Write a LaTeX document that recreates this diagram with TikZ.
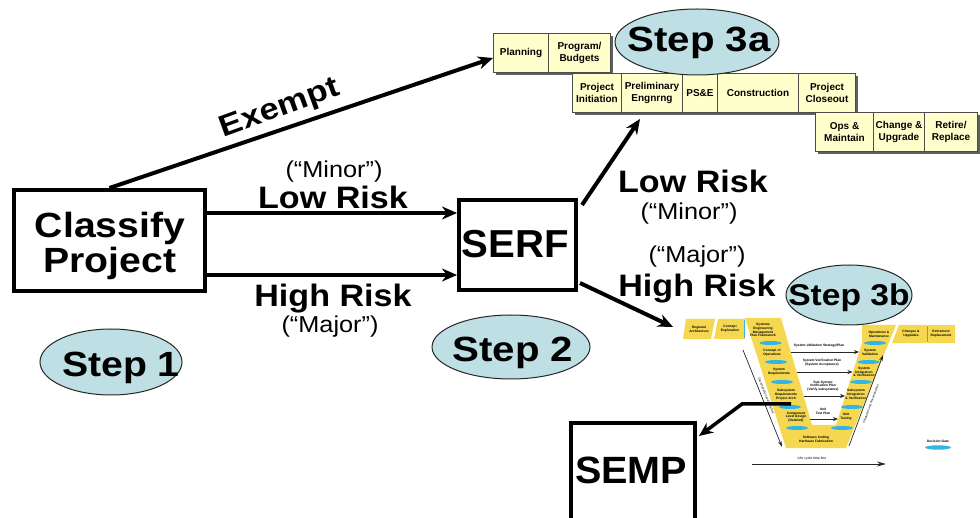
\documentclass[tikz,border=0pt]{standalone}
\usepackage{fontspec}
\setmainfont{Liberation Sans}
\usetikzlibrary{arrows.meta,shapes.geometric,shadows}

\definecolor{stepfill}{RGB}{190,224,228}
\definecolor{stairfill}{RGB}{255,255,204}
\definecolor{vyellow}{RGB}{245,216,80}
\definecolor{gateblue}{RGB}{50,180,230}

\newcommand{\hs}[2]{\scalebox{#1}[1]{#2}}
\newcommand\fcls{\fontsize{35}{35}\selectfont\bfseries}
\newcommand\frisk{\fontsize{31}{31}\selectfont\bfseries}
\newcommand\fminor{\fontsize{23}{23}\selectfont}
\newcommand\fstep{\fontsize{35}{35}\selectfont\bfseries}
\newcommand\fstair{\fontsize{10}{11.5}\selectfont\bfseries}
\newcommand\fvv{\fontsize{3.3}{3.8}\selectfont\bfseries}

\begin{document}
\begin{tikzpicture}[x=1pt,y=-1pt,
  bigbox/.style={draw, line width=4pt, inner sep=0pt},
  bigarrow/.style={line width=4pt, -{Stealth[length=15pt,width=13pt]}},
  stairbox/.style={draw=gray!60!black, fill=stairfill, line width=1pt, anchor=north west,
    inner sep=0pt, align=center, font=\fstair,
    drop shadow={shadow xshift=2.5pt, shadow yshift=-2.5pt, fill=gray!75!black, opacity=1}},
  stepell/.style={ellipse, draw=gray!30!black, fill=stepfill, line width=1pt, inner sep=0pt},
  vtxt/.style={font=\fvv, align=center, inner sep=0pt},
  vthin/.style={line width=0.7pt, gray!30!black},
  vgate/.style={fill=gateblue},
  txtb/.style={anchor=base, inner sep=0pt}
]
\useasboundingbox (0,0) rectangle (980,518);
\fill[white] (0,0) rectangle (980,518);
\clip (0,0) rectangle (980,518);

% ---------------- V diagram ----------------
\fill[vyellow] (745,318) -- (781,318) -- (812,425) -- (836,425) -- (862,343) -- (862,325)
  -- (896,325) -- (846,448) -- (786,448) -- cycle;
\fill[vyellow] (686,319) -- (715,319) -- (711,339) -- (683,339) -- cycle;
\fill[vyellow] (718,319) -- (745,319) -- (745,339) -- (714,339) -- cycle;
\fill[vyellow] (899,325) -- (927,325) -- (927,343) -- (892,343) -- cycle;
\fill[vyellow] (928,325) -- (955,325) -- (955,343) -- (928,343) -- cycle;
\draw[gateblue, line width=1.6pt] (744.5,320) -- (744.5,338);
\draw[gateblue, line width=1.6pt] (927.5,326) -- (927.5,342);
\foreach \p in {(770.5,343),(776,362),(782,382),(790,407),(797,428),
                (875,343),(868.5,362),(861,382),(852,407),(842,428)}
  \fill[vgate] \p ellipse [x radius=11pt, y radius=2pt];

\node[vtxt] (vra) at (699,329) {Regional\\Architecture};
\node[vtxt] (vce) at (730,329) {Concept\\Exploration};
\node[vtxt] (vsem) at (763,330) {Systems\\Engineering\\Management\\Plan Framework};
\node[vtxt] (vcon) at (772,352.5) {Concept of\\Operations};
\node[vtxt] (vsr) at (779,372) {System\\Requirements};
\node[vtxt] (vssr) at (786,394.5) {Subsystem\\Requirements\\Project Arch};
\node[vtxt] (vcld) at (796,417) {Component\\Level Design\\(Detailed)};
\node[vtxt] (vsw) at (816,439) {Software Coding\\Hardware Fabrication};
\node[vtxt] (vom) at (879,334) {Operations \&\\Maintenance};
\node[vtxt] (vsv) at (870,352.5) {System\\Validation};
\node[vtxt] (vsiv) at (864,372) {System\\Integration\\\& Verification};
\node[vtxt] (vssiv) at (856,394.5) {Subsystem\\Integration\\\& Verification};
\node[vtxt] (vut) at (846,417) {Unit\\Testing};
\node[vtxt] (vcu) at (911,334) {Changes \&\\Upgrades};
\node[vtxt] (vrr) at (941,334) {Retirement\\Replacement};

\node[vtxt] (p1) at (819,346) {System Validation Strategy/Plan};
\node[vtxt] (p2) at (822,363) {System Verification Plan\\(System Acceptance)};
\node[vtxt] (p3) at (823,386) {Sub-System\\Verification Plan\\(Verify subsystems)};
\node[vtxt] (p4) at (823,411) {Unit\\Test Plan};
\coordinate (a1s) at (791,352); \coordinate (a1e) at (859,352);
\coordinate (a2s) at (797,372); \coordinate (a2e) at (852.5,372);
\coordinate (a3s) at (804,396); \coordinate (a3e) at (845,396);
\coordinate (a4s) at (810,419); \coordinate (a4e) at (838,419);
\foreach \s/\e in {a1s/a1e,a2s/a2e,a3s/a3e,a4s/a4e}
  \draw[vthin, line width=0.9pt, -{Stealth[length=5pt,width=4pt]}] (\s) -- (\e);

\coordinate (dds) at (743,350); \coordinate (dde) at (782,447);
\draw[vthin, -{Stealth[length=6pt,width=3.5pt]}] (dds) -- (dde);
\node[vtxt, font=\fontsize{3}{3.5}\selectfont, rotate=-68.1] (ddt) at (766,396) {Decomposition and Definition};
\coordinate (irs) at (849,446); \coordinate (ire) at (883,355);
\draw[vthin, -{Stealth[length=6pt,width=3.5pt]}] (irs) -- (ire);
\node[vtxt, font=\fontsize{3}{3.5}\selectfont, rotate=69.5] (irt) at (871,404) {Integration and Recomposition};

\node[vtxt] (dg) at (938,441) {Decision Gate};
\fill[vgate] (938,447.5) ellipse [x radius=13pt, y radius=2.2pt];
\coordinate (lcs) at (752,464); \coordinate (lce) at (886,464);
\draw[gray!30!black, line width=1pt, -{Stealth[length=9pt,width=5pt]}] (lcs) -- (lce);
\node[vtxt, font=\fontsize{3.5}{4}\selectfont] (lct) at (812,459) {Life cycle time line};

% ---------------- staircase (Step 3a) ----------------
\node[stairbox, minimum width=55pt, minimum height=39pt] (planning) at (493,33) {Planning};
\node[stairbox, minimum width=62pt, minimum height=39pt] (budgets) at (548,33) {Program/\\Budgets};
\node[stairbox, minimum width=49pt, minimum height=39pt] (pinit) at (572,73) {Project\\Initiation};
\node[stairbox, minimum width=61pt, minimum height=39pt] (prelim) at (621,73) {Preliminary\\Engnrng};
\node[stairbox, minimum width=35pt, minimum height=39pt] (pse) at (682,73) {PS\&E};
\node[stairbox, minimum width=81pt, minimum height=39pt] (constr) at (717,73) {Construction};
\node[stairbox, minimum width=57pt, minimum height=39pt] (closeout) at (798,73) {Project\\Closeout};
\node[stairbox, minimum width=58pt, minimum height=39pt] (ops) at (815,112) {Ops \&\\Maintain};
\node[stairbox, minimum width=51pt, minimum height=39pt] (change) at (873,112) {Change \&\\Upgrade};
\node[stairbox, minimum width=53pt, minimum height=39pt] (retire) at (924,112) {Retire/\\Replace};

% ---------------- main boxes ----------------
\node[bigbox, minimum width=191pt, minimum height=101pt] (classify) at (109.5,240.5) {};
\node[bigbox, minimum width=117pt, minimum height=90pt] (serf) at (517.5,245) {};
\node[bigbox, minimum width=124pt, minimum height=107pt] (semp) at (633,476.5) {};

% ---------------- connectors ----------------
\coordinate (lowy) at (0,213);
\coordinate (highy) at (0,275);
\draw[bigarrow] (classify.north) -- ([yshift=-5pt]planning.west);
\draw[bigarrow] (classify.east |- lowy) -- (serf.west |- lowy);
\draw[bigarrow] (classify.east |- highy) -- (serf.west |- highy);
\coordinate (t3a) at (640,119);
\coordinate (tV) at (673,327);
\draw[bigarrow] ([xshift=4pt,yshift=-7pt]serf.north east) -- (t3a);
\draw[bigarrow] ([xshift=2pt,yshift=9pt]serf.south east) -- (tV);
\coordinate (vsrc) at (791,404);
\coordinate (vbend) at (742,404);
\draw[line width=3.5pt, -{Stealth[length=14pt,width=12pt]}] (vsrc) -- (vbend) -- ([xshift=2pt,yshift=-15pt]semp.north east);

% ---------------- step ellipses ----------------
\node[stepell, minimum width=142pt, minimum height=66pt] (step1) at (111,362) {};
\node[stepell, minimum width=158pt, minimum height=64pt] (step2) at (511,347) {};
\node[stepell, minimum width=164pt, minimum height=66pt] (step3a) at (697,42) {};
\node[stepell, minimum width=126pt, minimum height=60pt] (step3b) at (849,295) {};

% ---------------- texts ----------------
\node[txtb, font=\fcls] (tcl1) at (110,238) {\hs{1.12}{Classify}};
\node[txtb, font=\fcls] (tcl2) at (110,273) {\hs{1.12}{Project}};
\node[txtb, font=\fontsize{39}{39}\selectfont\bfseries] (tserf) at (515,258) {\hs{1.03}{SERF}};
\node[txtb, font=\fontsize{38}{38}\selectfont\bfseries] (tsemp) at (631,483) {\hs{1.04}{SEMP}};

\node[font=\fontsize{30}{30}\selectfont\bfseries, rotate=20, inner sep=0pt] (texempt) at (280,109) {\hs{1.15}{Exempt}};
\node[txtb, font=\fminor] (tminorL) at (334,178) {\hs{1.1}{(“Minor”)}};
\node[txtb, font=\frisk] (tlowL) at (333,209) {\hs{1.1}{Low Risk}};
\node[txtb, font=\frisk] (thighL) at (333,307) {\hs{1.1}{High Risk}};
\node[txtb, font=\fminor] (tmajorL) at (330,333) {\hs{1.1}{(“Major”)}};

\node[txtb, font=\frisk] (tlowR) at (693,193) {\hs{1.1}{Low Risk}};
\node[txtb, font=\fminor] (tminorR) at (689,220) {\hs{1.1}{(“Minor”)}};
\node[txtb, font=\fminor] (tmajorR) at (697,263) {\hs{1.1}{(“Major”)}};
\node[txtb, font=\frisk] (thighR) at (697,297) {\hs{1.1}{High Risk}};

\node[txtb, font=\fstep] (ts1) at (121,377) {\hs{1.12}{Step 1}};
\node[txtb, font=\fstep] (ts2) at (513,362) {\hs{1.15}{Step 2}};
\node[txtb, font=\fstep] (ts3a) at (699,52) {\hs{1.15}{Step 3a}};
\node[txtb, font=\fontsize{30}{30}\selectfont\bfseries] (ts3b) at (849,306) {\hs{1.12}{Step 3b}};
\end{tikzpicture}
\end{document}
